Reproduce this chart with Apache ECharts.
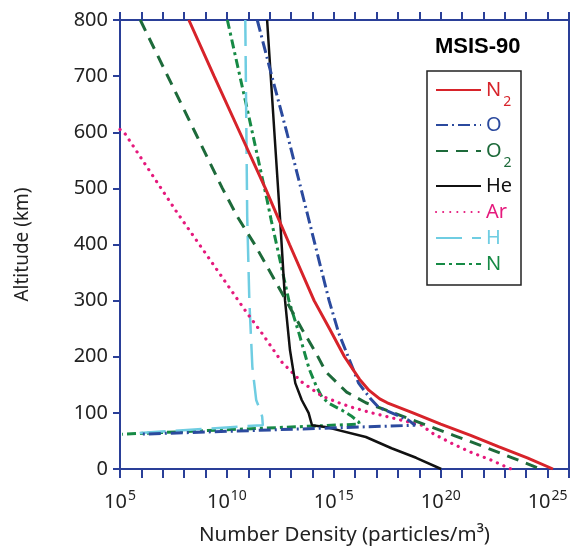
<!DOCTYPE html>
<html>
<head>
<meta charset="utf-8">
<script src="https://cdn.jsdelivr.net/npm/echarts@6/dist/echarts.min.js"></script>
<style>
  html, body { margin: 0; padding: 0; background: #fff; }
  #main { width: 572px; height: 551px; }
</style>
</head>
<body>
<div id="main"></div>
<script>
// altitude (km) and number density (particles/m^3)
var n2Alt = [800, 700, 600, 500, 400, 300, 250, 200, 160, 140, 125, 118, 100, 80, 60, 40, 20, 0];
var n2Den = [1.66e8, 2.51e9, 3.98e10, 6.31e11, 8.51e12, 1.2e14, 6.31e14, 3.16e15, 1.58e16, 4.47e16, 1.41e17, 3.16e17, 5.01e18, 1.0e20, 2.51e21, 5.01e22, 1.12e24, 1.78e25];

var oAlt = [800, 700, 600, 449, 350, 300, 242, 207, 153, 126, 110, 87, 78, 62];
var oDen = [2.63e11, 1.26e12, 6.31e12, 6.31e13, 2.82e14, 6.03e14, 1.7e15, 3.98e15, 1.45e16, 5.01e16, 1.23e17, 3.09e18, 6.31e18, 7.94e5];

var o2Alt = [800, 700, 600, 500, 449, 400, 313, 250, 207, 173, 137, 118, 100, 80, 60, 40, 20, 0];
var o2Den = [8.91e5, 1.7e7, 3.24e8, 6.17e9, 3.16e10, 2.0e11, 3.8e12, 3.16e13, 1.45e14, 4.27e14, 3.98e15, 3.16e16, 6.31e17, 1.58e19, 3.98e20, 1.0e22, 2.24e23, 4.47e24];

var heAlt = [800, 600, 444, 300, 212, 153, 123, 100, 78, 75, 57, 37, 20, 0];
var heDen = [7.59e11, 1.66e12, 3.09e12, 5.25e12, 8.91e12, 1.58e13, 3.16e13, 6.61e13, 9.55e13, 3.98e14, 3.16e16, 5.01e17, 7.08e18, 1.05e20];

var arAlt = [605, 600, 458, 387, 280, 244, 190, 155, 130, 116, 110, 100, 91, 82, 78, 64, 46, 30, 16, 0];
var arDen = [1.0e5, 1.55e5, 4.47e7, 8.91e8, 7.94e10, 3.98e11, 3.8e12, 3.16e13, 2.75e14, 2.34e15, 6.92e15, 5.89e16, 5.5e17, 4.68e18, 1.26e19, 3.98e19, 3.16e20, 2.51e21, 2.24e22, 1.9e23];

var hAlt = [800, 449, 300, 182, 123, 100, 93, 78, 77.5, 64];
var hDen = [7.24e10, 8.91e10, 1.12e11, 1.55e11, 2.34e11, 3.98e11, 4.47e11, 4.79e11, 2.63e11, 6.31e5];

var nAlt = [800, 650, 479, 444, 300, 242, 178, 146, 128, 117, 105, 95, 84, 80, 62];
var nDen = [1.05e10, 7.94e10, 7.59e11, 1.17e12, 7.94e12, 2.34e13, 7.08e13, 1.58e14, 2.82e14, 5.89e14, 2.34e15, 6.31e15, 1.45e16, 1.58e16, 1.26e5];

var speciesNames = ['N2', 'O', 'O2', 'He', 'Ar', 'H', 'N'];
var speciesColors = ['#d7232a', '#2b4a9e', '#1d6a3a', '#111111', '#e5197c', '#6fcde2', '#168a45'];

var axisColor = '#2a3f98';
var font = 'Noto Sans';

function pairs(den, alt) {
  var out = [];
  for (var i = 0; i < alt.length; i++) out.push([den[i], alt[i]]);
  return out;
}

var chart = echarts.init(document.getElementById('main'));

var lineStyles = [
  { width: 3, type: 'solid' },
  { width: 3, type: [12, 4, 2, 4] },
  { width: 3, type: [12, 8] },
  { width: 2.5, type: 'solid' },
  { width: 3.2, type: [0.1, 7], cap: 'round' },
  { width: 2.5, type: [26, 10] },
  { width: 3, type: [9, 4, 3, 4] }
];
var dataSets = [
  pairs(n2Den, n2Alt), pairs(oDen, oAlt), pairs(o2Den, o2Alt), pairs(heDen, heAlt),
  pairs(arDen, arAlt), pairs(hDen, hAlt), pairs(nDen, nAlt)
];

var series = speciesNames.map(function (name, i) {
  var ls = Object.assign({ color: speciesColors[i] }, lineStyles[i]);
  return {
    name: name,
    type: 'line',
    data: dataSets[i],
    symbol: 'none',
    lineStyle: ls,
    itemStyle: { color: speciesColors[i] },
    z: 10 - i,
    animation: false
  };
});

var logAxisBase = {
  type: 'log',
  logBase: 10,
  min: 1e5,
  max: 1e26,
  interval: 1,
  splitLine: { show: false }
};

var option = {
  backgroundColor: '#fff',
  title: {
    text: 'MSIS-90',
    left: 430,
    top: 31,
    textStyle: { fontFamily: 'Liberation Sans', fontWeight: 'bold', fontSize: 22, color: '#000' }
  },
  grid: { left: 120, right: 1, top: 20, bottom: 82, containLabel: false },
  legend: {
    orient: 'vertical',
    left: 435,
    top: 80,
    itemWidth: 45,
    itemHeight: 14,
    itemGap: 6,
    padding: 0,
    itemStyle: { opacity: 0 },
    data: speciesNames.map(function (n, i) {
      return { name: n, textStyle: { color: speciesColors[i] } };
    }),
    formatter: function (name) {
      if (name === 'N2') return 'N{s|2}';
      if (name === 'O2') return 'O{s|2}';
      return name;
    },
    textStyle: {
      fontFamily: font,
      fontSize: 20,
      rich: {
        s: { fontFamily: font, fontSize: 14, padding: [24, 0, 0, 2] }
      }
    }
  },
  graphic: [{
    type: 'rect',
    shape: { x: 427, y: 71, width: 94, height: 214 },
    style: { fill: 'none', stroke: '#222', lineWidth: 1.5 },
    z: 100
  }],
  xAxis: [Object.assign({}, logAxisBase, {
    position: 'bottom',
    name: 'Number Density (particles/m³)',
    nameLocation: 'middle',
    nameGap: 56,
    nameTextStyle: { fontFamily: font, fontSize: 20.5, color: '#222' },
    axisLine: { onZero: false, lineStyle: { color: axisColor, width: 2 } },
    axisTick: { inside: false, length: 9, lineStyle: { color: axisColor, width: 2 } },
    axisLabel: {
      margin: 20,
      color: '#222',
      fontFamily: font,
      fontSize: 20,
      formatter: function (v) {
        var e = Math.round(Math.log(v) / Math.LN10);
        if (e % 5 === 0 && e <= 25) return '10{sup|' + e + '}';
        return '';
      },
      rich: {
        sup: { fontFamily: font, fontSize: 14, color: '#222', padding: [0, 0, 12, 1] }
      }
    }
  }), Object.assign({}, logAxisBase, {
    position: 'top',
    axisLine: { onZero: false, lineStyle: { color: axisColor, width: 2 } },
    axisTick: { inside: false, length: 8, lineStyle: { color: axisColor, width: 2 } },
    axisLabel: { show: false }
  })],
  yAxis: [{
    type: 'value',
    min: 0,
    max: 800,
    interval: 100,
    name: 'Altitude (km)',
    nameLocation: 'middle',
    nameGap: 88,
    nameTextStyle: { fontFamily: font, fontSize: 19, color: '#222' },
    axisLine: { onZero: false, lineStyle: { color: axisColor, width: 2 } },
    axisTick: { inside: false, length: 7, lineStyle: { color: axisColor, width: 2 } },
    splitLine: { show: false },
    axisLabel: { margin: 12, color: '#222', fontFamily: font, fontSize: 20 }
  }, {
    type: 'value',
    min: 0,
    max: 800,
    position: 'right',
    axisLine: { show: true, onZero: false, lineStyle: { color: axisColor, width: 2 } },
    axisTick: { show: false },
    axisLabel: { show: false },
    splitLine: { show: false }
  }],
  series: series
};

option && chart.setOption(option);
</script>
</body>
</html>
